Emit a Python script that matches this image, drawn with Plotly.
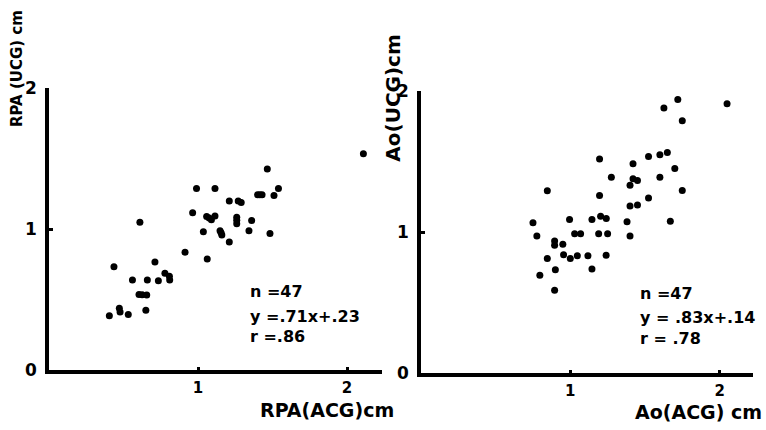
import plotly.graph_objects as go

# Right pulmonary artery: ACG (x) vs UCG (y), cm
rpa_acg = [2.11, 1.465, 0.99, 1.114, 1.54, 1.51, 1.40, 1.43, 1.415, 1.21, 1.27, 1.29,
           0.964, 1.058, 1.114, 1.09, 1.075, 1.26, 1.26, 1.26, 1.36, 0.61, 1.036, 1.148,
           1.16, 1.155, 1.342, 1.483, 1.21, 0.913, 1.062, 0.436, 0.711, 0.778, 0.808, 0.81,
           0.56, 0.66, 0.734, 0.604, 0.656, 0.625, 0.65, 0.405, 0.472, 0.477, 0.532]
rpa_ucg = [1.535, 1.428, 1.29, 1.29, 1.29, 1.24, 1.245, 1.245, 1.245, 1.20, 1.20, 1.19,
           1.117, 1.09, 1.095, 1.068, 1.08, 1.085, 1.04, 1.065, 1.063, 1.05, 0.982, 0.99,
           0.96, 0.975, 0.99, 0.97, 0.91, 0.838, 0.79, 0.734, 0.768, 0.689, 0.667, 0.64,
           0.64, 0.64, 0.635, 0.538, 0.534, 0.537, 0.426, 0.387, 0.441, 0.414, 0.396]

# Aorta: ACG (x) vs UCG (y), cm
ao_acg = [2.05, 1.72, 1.627, 1.75, 1.65, 1.60, 1.524, 1.196, 1.42, 1.70, 1.275, 1.60,
          1.42, 1.45, 1.40, 0.846, 1.75, 1.196, 1.524, 1.40, 1.45, 1.203, 1.241, 0.995,
          1.145, 1.38, 1.67, 0.75, 0.776, 1.029, 1.069, 1.19, 1.25, 1.40, 0.895, 0.895,
          0.95, 0.955, 1.0, 1.047, 1.118, 1.24, 0.846, 0.90, 1.145, 0.796, 0.895]
ao_ucg = [1.91, 1.94, 1.88, 1.79, 1.564, 1.548, 1.537, 1.519, 1.485, 1.451, 1.39, 1.39,
          1.378, 1.367, 1.333, 1.293, 1.295, 1.26, 1.243, 1.186, 1.193, 1.112, 1.096, 1.089,
          1.089, 1.073, 1.078, 1.066, 0.972, 0.988, 0.988, 0.988, 0.988, 0.972, 0.938, 0.908,
          0.915, 0.84, 0.814, 0.832, 0.832, 0.836, 0.814, 0.734, 0.739, 0.694, 0.588]

x_ticks = [1, 2]
y_ticks = [0, 1, 2]

rpa_stats = ["n =47", "y =.71x+.23", "r =.86"]
ao_stats = ["n =47", "y = .83x+.14", "r = .78"]

W, H = 766, 430
FONT = "DejaVu Sans"


def fx(p):
    return p / W


def fy(p):
    return 1 - p / H


def bold(size):
    return dict(family=FONT, size=size, color="black", weight="bold")


fig = go.Figure()
fig.add_trace(go.Scatter(x=rpa_acg, y=rpa_ucg, mode="markers",
                         marker=dict(size=7, color="black"),
                         xaxis="x", yaxis="y", hoverinfo="skip"))
fig.add_trace(go.Scatter(x=ao_acg, y=ao_ucg, mode="markers",
                         marker=dict(size=7, color="black"),
                         xaxis="x2", yaxis="y2", hoverinfo="skip"))

common = dict(showline=True, linecolor="black", linewidth=3.5, showgrid=False,
              zeroline=False, ticks="inside", ticklen=4, tickwidth=3,
              tickcolor="black", fixedrange=True)

xcommon = dict(tickvals=x_ticks, ticklabelstandoff=1, tickfont=bold(15), **common)
ycommon = dict(tickvals=y_ticks, ticklabelstandoff=5, tickfont=bold(17),
               range=[0, 2], **common)

fig.update_layout(
    width=W, height=H, margin=dict(l=0, r=0, t=0, b=0),
    paper_bgcolor="white", plot_bgcolor="white", showlegend=False,
    xaxis=dict(domain=[fx(49), fx(382)], range=[0, (382 - 49) / 149], anchor="y",
               **xcommon),
    yaxis=dict(domain=[fy(378), fy(82)], anchor="x", **ycommon),
    xaxis2=dict(domain=[fx(421), fx(753)], range=[0, (753 - 421) / 149.3], anchor="y2",
                **xcommon),
    yaxis2=dict(domain=[fy(381), fy(85)], anchor="x2", **ycommon),
)


def label(text, x, y, size, angle=0):
    return dict(text=text, x=fx(x), y=fy(y), xref="paper", yref="paper",
                xanchor="center", yanchor="middle", textangle=angle,
                showarrow=False, font=bold(size))


ann = [
    label("RPA (UCG) cm", 17, 62, 15, -90),
    label("Ao(UCG)cm", 393, 92, 20, -90),
    label("RPA(ACG)cm", 327, 419, 19),
    label("Ao(ACG) cm", 698, 422, 19),
]

# regression statistics
for txt, yv in zip(rpa_stats, [0.56, 0.385, 0.243]):
    ann.append(dict(text=txt, x=1.336, y=yv, xref="x", yref="y", xanchor="left",
                    yanchor="middle", showarrow=False, font=bold(16)))
for txt, yv in zip(ao_stats, [0.568, 0.392, 0.243]):
    ann.append(dict(text=txt, x=1.453, y=yv, xref="x2", yref="y2", xanchor="left",
                    yanchor="middle", showarrow=False, font=bold(16)))

fig.update_layout(annotations=ann)
fig.write_html("out.html")
